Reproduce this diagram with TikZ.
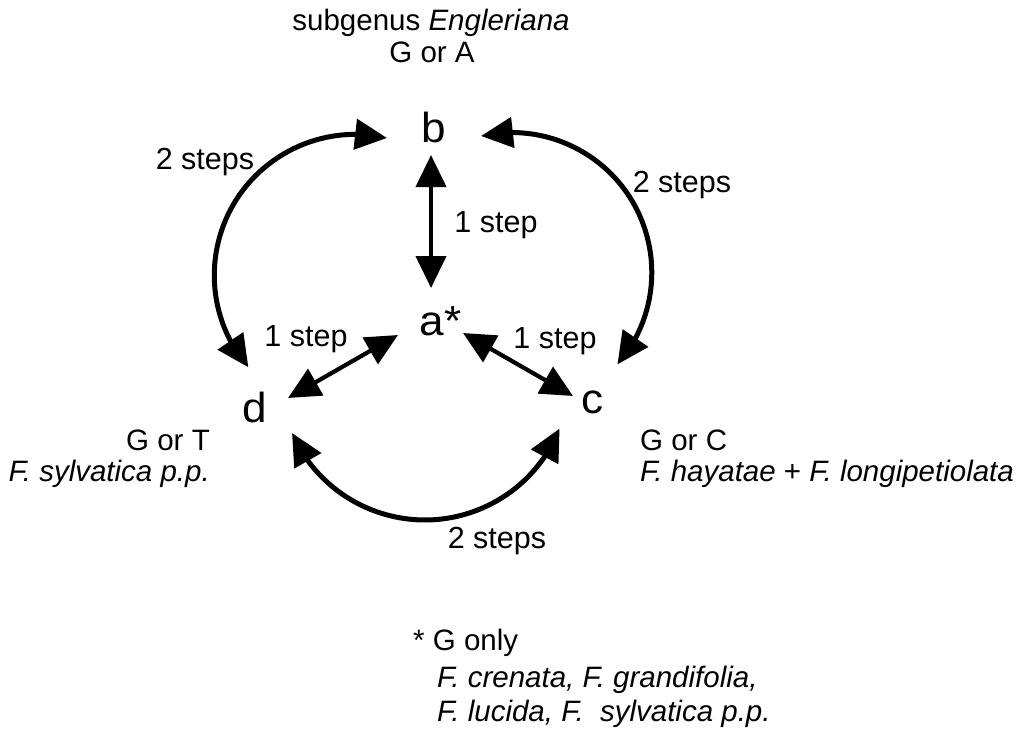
\documentclass[tikz,border=0pt]{standalone}
\usepackage{fontspec}
\setmainfont{Liberation Sans}
\newfontfamily\letterfont[FakeStretch=1.05]{Liberation Sans}
\usetikzlibrary{arrows.meta,bending}

\tikzset{
  bigtip/.tip={Triangle[length=32pt,width=30pt,flex]},
  state/.style={inner sep=0pt, anchor=base, font=\letterfont\fontsize{42}{42}\selectfont},
  note/.style={inner sep=0pt, font=\fontsize{29.5}{34}\selectfont},
  steplabel/.style={inner sep=0pt, anchor=base, font=\fontsize{30.5}{34}\selectfont},
  straight/.style={line width=4.2pt, bigtip-bigtip},
  curved/.style={line width=5pt, bigtip-bigtip},
}

\begin{document}
\begin{tikzpicture}[x=1pt,y=-1pt]
  \path[use as bounding box] (0,0) rectangle (1024,730);

  % states
  \node[state] (b) at (434,143) {b};
  \node[state] (a) at (432,335) {a\rlap{*}};
  \node[state] (d) at (255,422) {d};
  \node[state] (c) at (593,413) {c};

  % one-step transitions
  \draw[straight] ([shift={(-3,12)}]b.base) -- ([shift={(-1,-47)}]a.base);
  \draw[straight] ([shift={(33,-24)}]d.base) -- ([shift={(-34,0)}]a.base);
  \draw[straight] ([shift={(31,-2)}]a.base) -- ([shift={(-20,-17)}]c.base);

  % two-step transitions
  \draw[curved] ([shift={(-47,-5)}]b.base) arc[start angle=-77, end angle=-220.7, radius=141];
  \draw[curved] ([shift={(47,-7)}]b.base) arc[start angle=-102.7, end angle=41, radius=140];
  \draw[curved] ([shift={(37,11)}]d.base) arc[start angle=156.4, end angle=21.7, radius=145];

  % step labels
  \node[steplabel] (l1) at (205,170) {2 steps};
  \node[steplabel] (l2) at (496,232) {1 step};
  \node[steplabel] (l3) at (682,193) {2 steps};
  \node[steplabel] (l4) at (306,346) {1 step};
  \node[steplabel] (l5) at (555,348) {1 step};
  \node[steplabel] (l6) at (497,548) {2 steps};

  % state annotations
  \node[note, anchor=base] (nb1) at (431,31) {subgenus \textit{Engleriana}};
  \node[note, anchor=base] (nb2) at (432,63) {G or A};
  \node[note, anchor=base east] (nd1) at (210,450) {G or T};
  \node[note, anchor=base east] (nd2) at (210,481) {\textit{F. sylvatica p.p.}};
  \node[note, anchor=base west] (nc1) at (640,450) {G or C};
  \node[note, anchor=base west] (nc2) at (640,481) {\textit{F. hayatae} + \textit{F. longipetiolata}};

  % footnote
  \node[note, anchor=base west] (f1) at (413,650) {* G only};
  \node[note, anchor=base west] (f2) at (437,687) {\textit{F. crenata, F. grandifolia,}};
  \node[note, anchor=base west] (f3) at (437,721) {\textit{F. lucida, F.\ \ sylvatica p.p.}};
\end{tikzpicture}
\end{document}
